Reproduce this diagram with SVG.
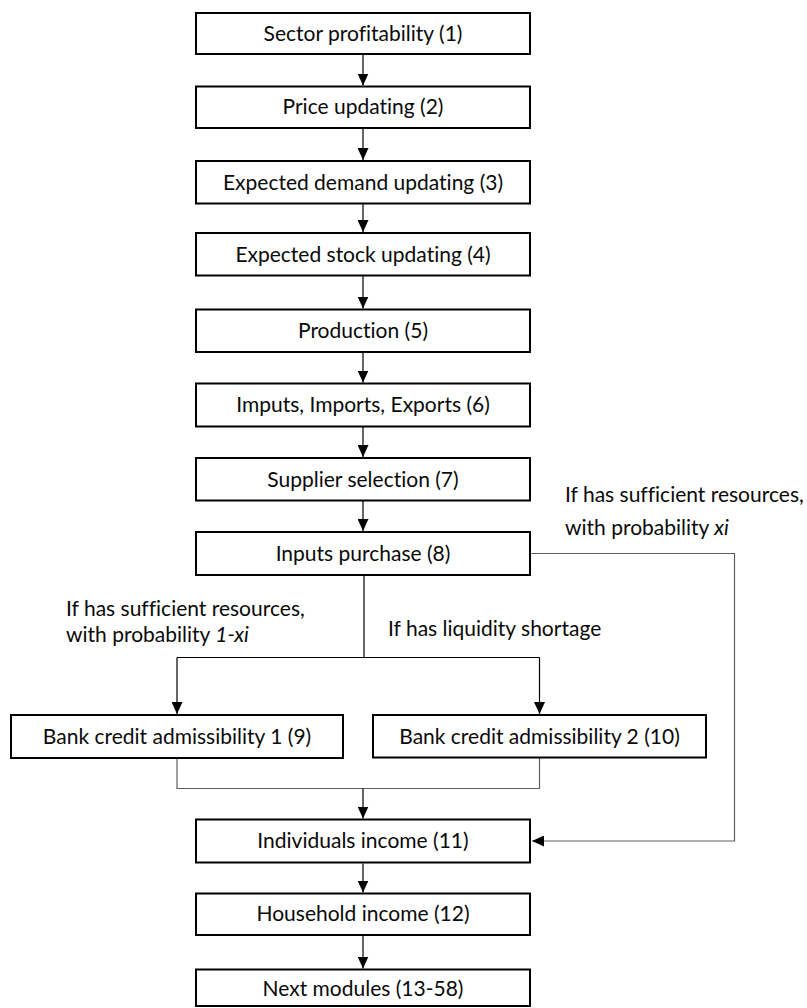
<svg xmlns="http://www.w3.org/2000/svg" width="807" height="1008" viewBox="0 0 807 1008">
  <style>
    .box { fill: #ffffff; stroke: #000000; stroke-width: 2; }
    .lbl { font-family: Lato, "Liberation Sans", sans-serif; font-size: 21px; fill: #0a0a0a; font-variant-ligatures: none; }
    .mid { text-anchor: middle; }
    .edge { fill: none; stroke: #000000; stroke-width: 1.2; }
    .soft { fill: none; stroke: #606060; stroke-width: 1.2; }
    .it { font-style: italic; }
  </style>
  <defs>
    <marker id="arrow" viewBox="0 0 12 11" refX="12" refY="5.5" markerWidth="12" markerHeight="11" markerUnits="userSpaceOnUse" orient="auto">
      <path d="M0,0 L12,5.5 L0,11 z" fill="#000000"/>
    </marker>
  </defs>

  <rect width="807" height="1008" fill="#ffffff"/>

  <!-- connectors -->
  <g id="connectors">
    <path class="edge" d="M363 54.5 V85.5" marker-end="url(#arrow)"/>
    <path class="edge" d="M363 128.5 V160" marker-end="url(#arrow)"/>
    <path class="edge" d="M363 204 V232" marker-end="url(#arrow)"/>
    <path class="edge" d="M363 276 V308.5" marker-end="url(#arrow)"/>
    <path class="edge" d="M363 352.5 V382.5" marker-end="url(#arrow)"/>
    <path class="edge" d="M363 427 V457" marker-end="url(#arrow)"/>
    <path class="edge" d="M363 501 V531" marker-end="url(#arrow)"/>

    <!-- split below Inputs purchase -->
    <path class="edge" d="M364 575.5 V657.5"/>
    <path class="edge" d="M177 657.5 H539.5"/>
    <path class="edge" d="M177 657.5 V714" marker-end="url(#arrow)"/>
    <path class="edge" d="M539.5 657.5 V714" marker-end="url(#arrow)"/>

    <!-- merge below bank credit boxes -->
    <path class="soft" d="M177 758.5 V788.5 H539.5 V758"/>
    <path class="edge" d="M363 788.5 V818.5" marker-end="url(#arrow)"/>

    <!-- bypass on the right -->
    <path class="soft" d="M531 553.5 H734.5 V841 H532" marker-end="url(#arrow)"/>

    <path class="edge" d="M363 863.5 V892.5" marker-end="url(#arrow)"/>
    <path class="edge" d="M363 935.5 V968.5" marker-end="url(#arrow)"/>
  </g>

  <!-- branch labels -->
  <g id="labels">
    <text class="lbl" x="565" y="502">If has sufficient resources,</text>
    <text class="lbl" x="565" y="535">with probability <tspan class="it">xi</tspan></text>
    <text class="lbl" x="66" y="616">If has sufficient resources,</text>
    <text class="lbl" x="66" y="642">with probability <tspan class="it">1-xi</tspan></text>
    <text class="lbl" x="388" y="636">If has liquidity shortage</text>
  </g>

  <!-- nodes -->
  <g id="n1"><rect class="box" x="196" y="13" width="334" height="41"/><text class="lbl mid" x="363" y="41">Sector profitability (1)</text></g>
  <g id="n2"><rect class="box" x="196" y="86.5" width="334" height="41.5"/><text class="lbl mid" x="363" y="114">Price updating (2)</text></g>
  <g id="n3"><rect class="box" x="196" y="161" width="334" height="42.5"/><text class="lbl mid" x="363" y="189.5">Expected demand updating (3)</text></g>
  <g id="n4"><rect class="box" x="196" y="233" width="334" height="42.5"/><text class="lbl mid" x="363" y="261.5">Expected stock updating (4)</text></g>
  <g id="n5"><rect class="box" x="196" y="309.5" width="334" height="42.5"/><text class="lbl mid" x="363" y="338">Production (5)</text></g>
  <g id="n6"><rect class="box" x="196" y="383.5" width="334" height="43"/><text class="lbl mid" x="363" y="412">Imputs, Imports, Exports (6)</text></g>
  <g id="n7"><rect class="box" x="196" y="458" width="334" height="42.5"/><text class="lbl mid" x="363" y="486.5">Supplier selection (7)</text></g>
  <g id="n8"><rect class="box" x="196" y="532" width="334" height="43"/><text class="lbl mid" x="363" y="560.5">Inputs purchase (8)</text></g>
  <g id="n9"><rect class="box" x="11" y="715" width="332" height="43"/><text class="lbl mid" x="177" y="743.5">Bank credit admissibility 1 (9)</text></g>
  <g id="n10"><rect class="box" x="373" y="715" width="333" height="42.5"/><text class="lbl mid" x="539.5" y="743.5">Bank credit admissibility 2 (10)</text></g>
  <g id="n11"><rect class="box" x="196" y="819.5" width="334" height="43"/><text class="lbl mid" x="363" y="848">Individuals income (11)</text></g>
  <g id="n12"><rect class="box" x="196" y="893.5" width="334" height="41.5"/><text class="lbl mid" x="363" y="921">Household income (12)</text></g>
  <g id="n13"><rect class="box" x="196" y="969.5" width="334" height="36.5"/><text class="lbl mid" x="363" y="996">Next modules (13-58)</text></g>
</svg>
